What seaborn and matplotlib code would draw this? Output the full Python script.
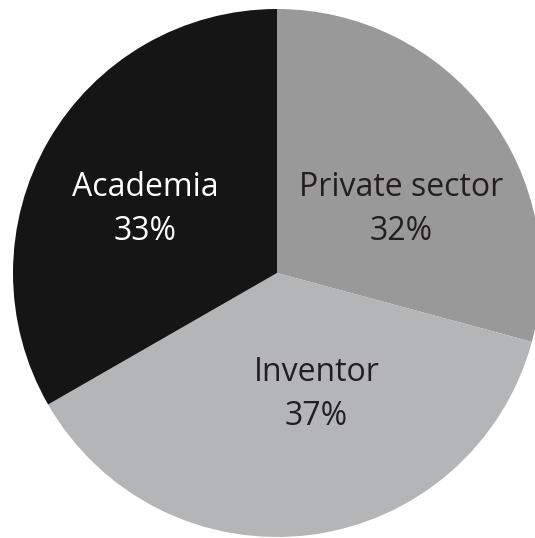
import matplotlib
matplotlib.use("Agg", force=True)
import matplotlib.pyplot as plt
import seaborn as sns

# wedge shares as drawn in the picture, and the percentages printed on it
categories = ["Private sector", "Inventor", "Academia"]
shares = [29.2, 37.5, 33.3]
printed_pct = [32, 37, 33]

colors = ["#999999", "#b4b5b7", "#151515"]
text_colors = ["#231f20", "#231f20", "#ffffff"]
# label centres in units of the pie radius
label_pos = [(0.47, 0.24), (0.15, -0.46), (-0.50, 0.24)]

sns.set_theme(style="white")
plt.rcParams["font.family"] = ["Open Sans", "DejaVu Sans"]

fig = plt.figure(figsize=(5.35, 5.38), dpi=100)
r_px = 264
cx, cy = 277, 273
ax = fig.add_axes([(cx - r_px) / 535, (538 - cy - r_px) / 538, 2 * r_px / 535, 2 * r_px / 538])

wedges, _ = ax.pie(
    shares,
    colors=colors,
    startangle=90,
    counterclock=False,
    wedgeprops={"linewidth": 0, "edgecolor": "none"},
)
for w in wedges:
    w.set_clip_on(False)

for name, pct, col, (x, y) in zip(categories, printed_pct, text_colors, label_pos):
    ax.text(x, y, f"{name}\n{pct}%", ha="center", va="center", color=col,
            fontsize=23, linespacing=1.45)

ax.set_xlim(-1, 1)
ax.set_ylim(-1, 1)
ax.set_aspect("equal")
ax.axis("off")

fig.savefig("out.png", dpi=100, facecolor="white")
plt.close(fig)
